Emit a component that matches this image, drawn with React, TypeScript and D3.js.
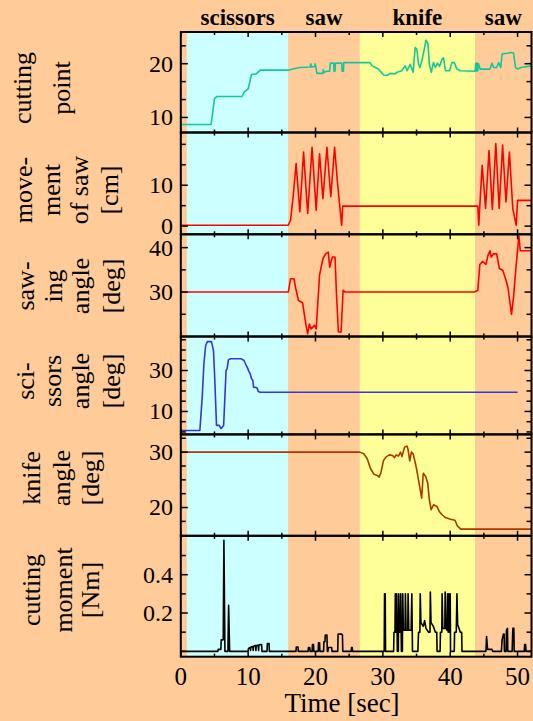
import React, { useEffect, useRef } from 'react'
import * as d3 from 'd3'

// time axis [sec]
const timeTicks = [0, 5, 10, 15, 20, 25, 30, 35, 40, 45, 50]
const timeLabels = [0, 10, 20, 30, 40, 50]
const timeMax = 52.07

// tool phases
const phaseNames = ['scissors', 'saw', 'knife', 'saw']
const phaseStart = [0.9, 15.96, 26.57, 43.69]
const phaseEnd = [15.96, 26.57, 43.69, 52.07]
const phaseColors = ['#ccffff', '#ffcc99', '#ffff99', '#ffcc99']

// [time, value]
const cuttingPoint = [
  [0, 8.7], [4.5, 8.7], [5.0, 13.5], [5.4, 13.9], [9.1, 13.9], [9.4, 14.7], [10.0, 15.3], [10.5, 18.0],
  [11.2, 18.1], [11.8, 18.8], [16.0, 18.8], [16.6, 19.0], [17.7, 19.3], [19.2, 19.4], [19.3, 20.0],
  [19.4, 19.4], [19.9, 19.5], [19.95, 20.0], [20.05, 19.4], [20.2, 18.2], [21.1, 18.2], [21.15, 18.9],
  [21.2, 18.3], [21.6, 18.6], [22.1, 18.6], [22.2, 20.1], [22.7, 20.1], [22.75, 18.6], [22.9, 18.6],
  [22.95, 20.1], [23.9, 20.1], [23.95, 18.6], [24.15, 18.6], [24.2, 20.2], [28.1, 20.2], [28.4, 19.6],
  [29.35, 19.0], [30.1, 17.9], [30.6, 17.8], [31.1, 18.2], [31.8, 18.1], [32.1, 18.4], [32.8, 18.7],
  [33.3, 19.6], [33.6, 18.7], [34.06, 19.9], [34.5, 18.4], [34.8, 23.0], [35.05, 22.7], [35.3, 19.9],
  [35.5, 19.3], [35.8, 20.6], [36.1, 22.4], [36.4, 24.4], [36.7, 23.7], [36.9, 19.9], [37.2, 18.4],
  [37.5, 20.2], [37.8, 19.3], [38.1, 20.1], [38.4, 19.5], [38.8, 20.9], [39.0, 21.1], [39.3, 18.7],
  [39.9, 18.7], [40.25, 20.2], [40.6, 20.2], [41.0, 19.0], [41.5, 18.7], [43.7, 18.6], [43.8, 20.1],
  [43.9, 18.6], [44.0, 20.1], [44.1, 18.7], [44.2, 20.0], [44.45, 19.0], [45.9, 19.0], [46.2, 20.1],
  [46.45, 19.3], [46.9, 19.3], [47.2, 20.2], [47.5, 19.3], [47.7, 21.8], [48.7, 22.0], [49.0, 22.1],
  [49.4, 22.0], [49.7, 19.3], [50.0, 19.0], [50.5, 19.3], [52.07, 19.6]
]

const sawMovement = [
  [0, 0.2], [15.96, 0.2], [16.3, 1.5], [16.7, 7.5], [17.12, 15.3], [17.68, 3.5], [18.23, 18.1],
  [18.84, 3.1], [19.49, 19.3], [20.1, 3.9], [20.6, 17.7], [21.1, 6.7], [21.7, 19.3], [22.27, 7.2],
  [22.83, 19.3], [23.3, 10], [23.89, 0.2], [24.04, 4.9], [44.1, 4.9], [44.24, 0.2], [44.5, 8],
  [44.75, 14.9], [45.25, 4.3], [45.76, 18.5], [46.26, 4.1], [46.77, 20.2], [47.27, 4.3], [47.78, 19.8],
  [48.28, 5.9], [48.79, 18.1], [49.29, 4.3], [49.8, 0.2], [50.0, 6.3], [52.07, 6.3]
]

const sawingAngle = [
  [0, 30], [15.96, 30], [16.3, 33.0], [16.8, 33.0], [17.07, 30.8], [17.47, 28.1], [18.08, 27.6],
  [18.59, 22.5], [18.84, 20.6], [19.09, 22.8], [19.34, 21.7], [19.85, 22.5], [20.1, 21.7], [20.6, 33.8],
  [21.1, 37.5], [21.5, 38.6], [21.9, 39.0], [22.1, 35.6], [22.5, 37.9], [22.9, 37.9], [23.1, 30.0],
  [23.4, 21.0], [23.8, 21.0], [24.1, 30.4], [24.4, 30], [43.6, 30], [44.1, 30.4], [44.4, 36.2],
  [44.8, 36.9], [45.3, 36.2], [45.6, 38.2], [45.9, 39.3], [46.1, 37.9], [46.4, 38.6], [46.9, 38.6],
  [47.3, 35.3], [47.8, 34.9], [48.3, 32.6], [48.6, 30.8], [49.1, 25.0], [49.4, 28.8], [49.8, 36.2],
  [50.2, 42.6], [50.4, 39.3], [52.07, 39.3]
]

const scissorsAngle = [
  [0, 0.7], [2.83, 0.7], [3.18, 17.0], [3.43, 33.3], [3.69, 42.2], [3.94, 44.1], [4.55, 44.1],
  [4.85, 39.8], [5.05, 25.4], [5.3, 3.2], [5.71, 3.2], [5.96, 1.6], [6.36, 3.2], [6.72, 30.0],
  [6.87, 30.8], [7.07, 35.2], [7.37, 35.7], [8.99, 35.7], [9.39, 34.9], [9.6, 33.3], [9.9, 31.3],
  [10.1, 29.7], [10.3, 28.4], [10.5, 26.0], [10.7, 25.1], [10.8, 21.9], [11.3, 21.6], [11.5, 19.8],
  [11.8, 19.4], [50.0, 19.4]
]

const knifeAngle = [
  [0, 30], [26.57, 30], [27.17, 29.7], [27.68, 28.8], [28.18, 27.0], [28.69, 26.0], [29.19, 25.8],
  [29.44, 25.5], [29.7, 26.2], [30.1, 28.5], [30.45, 29.1], [30.96, 29.5], [31.46, 29.4], [31.72, 29.0],
  [31.97, 29.5], [32.32, 29.3], [32.63, 30.0], [32.83, 29.2], [33.23, 30.9], [33.59, 31.1], [33.74, 30.5],
  [33.99, 28.4], [34.24, 30.0], [34.49, 29.7], [34.75, 28.4], [35.0, 27.0], [35.35, 24.6], [35.76, 21.7],
  [36.0, 26.2], [36.36, 25.6], [36.67, 24.4], [36.87, 21.7], [37.17, 19.6], [37.53, 20.5], [38.03, 20.2],
  [38.38, 19.3], [38.79, 18.7], [39.29, 18.2], [40.05, 17.9], [40.71, 17.7], [41.06, 16.7], [41.57, 16.1],
  [52.07, 16.1]
]

const cuttingMoment = [
  [0, 0], [5.5, 0], [5.55, 0.01], [5.95, 0.01], [6.0, 0.06], [6.3, 0.06], [6.4, 0.58], [6.55, 0],
  [7.0, 0], [7.1, 0.24], [7.25, 0], [10.0, 0], [10.05, 0.015], [10.3, 0.02], [10.35, 0.005],
  [10.4, 0.022], [10.7, 0.025], [10.75, 0.005], [10.8, 0.027], [11.1, 0.03], [11.15, 0.005], [11.2, 0.03],
  [11.5, 0.032], [11.55, 0.005], [11.6, 0.034], [12.0, 0.035], [12.05, 0], [12.8, 0], [12.85, 0.04],
  [13.1, 0.04], [13.15, 0],
  [17.1, 0], [17.15, 0.023], [17.4, 0.023], [17.45, 0], [18.9, 0], [18.95, 0.02], [19.15, 0.02],
  [19.2, 0], [19.5, 0], [19.55, 0.035], [19.7, 0.035], [19.75, 0], [20.4, 0], [20.45, 0.045],
  [20.6, 0.045], [20.65, 0], [21.2, 0], [21.25, 0.05], [21.4, 0.05], [21.45, 0.085], [21.7, 0.085],
  [21.75, 0], [21.85, 0], [21.9, 0.02], [22.4, 0.02], [22.45, 0], [23.3, 0], [23.35, 0.09], [23.9, 0.09],
  [24.0, 0.085], [24.05, 0], [25.3, 0], [25.35, 0.02], [25.45, 0.02], [25.5, 0],
  [30.2, 0], [30.25, 0.3], [30.35, 0.3], [30.4, 0], [31.6, 0], [31.65, 0.1], [31.8, 0.1], [31.85, 0.3],
  [31.95, 0.1], [32.05, 0.3], [32.15, 0], [32.3, 0], [32.35, 0.3], [32.45, 0.1], [32.6, 0.1], [32.65, 0.3],
  [32.75, 0], [32.9, 0], [32.95, 0.3], [33.05, 0.11], [33.3, 0.11], [33.35, 0.3], [33.45, 0.11],
  [33.7, 0.11], [33.75, 0.3], [33.85, 0.11], [34.2, 0.11], [34.3, 0.3], [34.4, 0], [35.2, 0], [35.3, 0.1],
  [35.5, 0.1], [35.55, 0.3], [35.65, 0.15], [36.0, 0.13], [36.2, 0.16], [36.4, 0.12], [36.8, 0.1],
  [37.0, 0.1], [37.05, 0.31], [37.15, 0.15], [37.5, 0.13], [37.8, 0.1], [38.0, 0.1], [38.05, 0],
  [38.5, 0], [38.55, 0.1], [38.75, 0.1], [38.8, 0.3], [38.9, 0.12], [39.2, 0.12], [39.25, 0.31],
  [39.35, 0.12], [39.55, 0.11], [39.6, 0.3], [39.7, 0.1], [39.8, 0.3], [39.9, 0.1], [40.0, 0.3],
  [40.05, 0], [40.6, 0], [40.65, 0.1], [40.9, 0.1], [41.0, 0.3], [41.1, 0.14], [41.3, 0.12], [41.5, 0.1],
  [41.7, 0.1], [41.75, 0],
  [45.3, 0], [45.4, 0.077], [45.55, 0.01], [46.2, 0.01], [46.3, 0], [47.6, 0], [47.7, 0.06],
  [47.9, 0.09], [48.0, 0.09], [48.05, 0], [48.3, 0], [48.35, 0.11], [48.5, 0.12], [48.55, 0],
  [49.2, 0], [49.3, 0.12], [49.45, 0.12], [49.5, 0], [51.0, 0], [51.05, 0.035], [51.2, 0.035],
  [51.25, 0], [52.07, 0]
]

const panels = [
  { lines: ['cutting', 'point'], data: cuttingPoint, color: '#14c79b', domain: [7.2, 25.9],
    ticks: [10, 13.33, 16.67, 20, 23.33], labels: [10, 20], top: 32, bottom: 132.5, labelX: [31, 69.5], labelY: 88 },
  { lines: ['move-', 'ment', 'of saw', '[cm]'], data: sawMovement, color: '#ff0000', domain: [-2.0, 22.9],
    ticks: [0, 5, 10, 15, 20], labels: [0, 10], top: 132.5, bottom: 234.3, labelX: [32, 60, 88, 118], labelY: 190 },
  { lines: ['saw-', 'ing', 'angle', '[deg]'], data: sawingAngle, color: '#ff0000', domain: [20.0, 43.0],
    ticks: [25, 30, 35, 40], labels: [30, 40], top: 234.3, bottom: 336.5, labelX: [34, 62, 89, 120], labelY: 286 },
  { lines: ['sci-', 'ssors', 'angle', '[deg]'], data: scissorsAngle, color: '#3737d2', domain: [-1.2, 46.6],
    ticks: [0, 5, 10, 15, 20, 25, 30, 35, 40, 45], labels: [10, 30], top: 336.5, bottom: 434.4, labelX: [34, 61, 89, 120], labelY: 381 },
  { lines: ['knife', 'angle', '[deg]'], data: knifeAngle, color: '#a83a00', domain: [14.9, 33.2],
    ticks: [17.5, 20, 22.5, 25, 27.5, 30, 32.5], labels: [20, 30], top: 434.4, bottom: 535.8, labelX: [40, 70, 99], labelY: 478 },
  { lines: ['cutting', 'moment', '[Nm]'], data: cuttingMoment, color: '#000000', domain: [-0.028, 0.603],
    ticks: [0, 0.1, 0.2, 0.3, 0.4, 0.5], labels: [0.2, 0.4], top: 535.8, bottom: 656.7, labelX: [39.5, 71.5, 99], labelY: 590 }
]

const serif = '"Liberation Serif", "Times New Roman", Times, serif'

function Chart() {
  const ref = useRef(null)

  useEffect(() => {
    const svg = d3.select(ref.current)
    svg.selectAll('*').remove()

    const x = d3.scaleLinear().domain([0, timeMax]).range([180.8, 531.5])
    const plotTop = panels[0].top
    const plotBottom = panels[panels.length - 1].bottom

    svg.append('rect').attr('width', 533).attr('height', 721).attr('fill', '#ffcc99')

    // phase backgrounds
    svg
      .selectAll('.phase')
      .data(phaseNames)
      .enter()
      .append('rect')
      .attr('x', (d, i) => x(phaseStart[i]))
      .attr('width', (d, i) => x(phaseEnd[i]) - x(phaseStart[i]))
      .attr('y', plotTop)
      .attr('height', plotBottom - plotTop)
      .attr('fill', (d, i) => phaseColors[i])

    svg
      .selectAll('.phase-name')
      .data(phaseNames)
      .enter()
      .append('text')
      .attr('x', (d, i) => (x(phaseStart[i]) + x(phaseEnd[i])) / 2)
      .attr('y', 25)
      .attr('text-anchor', 'middle')
      .attr('font-family', serif)
      .attr('font-weight', 'bold')
      .attr('font-size', 23)
      .text(d => d)

    panels.forEach((p, pi) => {
      const y = d3.scaleLinear().domain(p.domain).range([p.bottom, p.top])
      const g = svg.append('g')

      // data line
      const line = d3
        .line()
        .x(d => x(d[0]))
        .y(d => y(d[1]))
      g.append('path')
        .attr('d', line(p.data))
        .attr('fill', 'none')
        .attr('stroke', p.color)
        .attr('stroke-width', 1.6)
        .attr('stroke-linejoin', 'round')

      // x ticks, inward on top and bottom
      timeTicks.forEach(t => {
        const len = t % 10 === 0 ? 5 : 3
        g.append('line').attr('x1', x(t)).attr('x2', x(t)).attr('y1', p.top).attr('y2', p.top + len)
          .attr('stroke', 'black').attr('stroke-width', 1.5)
        g.append('line').attr('x1', x(t)).attr('x2', x(t)).attr('y1', p.bottom).attr('y2', p.bottom - len)
          .attr('stroke', 'black').attr('stroke-width', 1.5)
      })

      // y ticks, inward on left and right
      p.ticks.forEach(v => {
        const len = p.labels.indexOf(v) >= 0 ? 7 : 5
        g.append('line').attr('x1', x(0)).attr('x2', x(0) + len).attr('y1', y(v)).attr('y2', y(v))
          .attr('stroke', 'black').attr('stroke-width', 1.5)
        g.append('line').attr('x1', x(timeMax)).attr('x2', x(timeMax) - len).attr('y1', y(v)).attr('y2', y(v))
          .attr('stroke', 'black').attr('stroke-width', 1.5)
      })

      p.labels.forEach(v => {
        g.append('text')
          .attr('x', 173)
          .attr('y', y(v))
          .attr('dy', '0.33em')
          .attr('text-anchor', 'end')
          .attr('font-family', serif)
          .attr('font-size', 24)
          .text(String(v))
      })

      // box
      g.append('rect')
        .attr('x', x(0))
        .attr('y', p.top)
        .attr('width', x(timeMax) - x(0))
        .attr('height', p.bottom - p.top)
        .attr('fill', 'none')
        .attr('stroke', 'black')
        .attr('stroke-width', 2)

      // rotated axis title
      p.lines.forEach((s, i) => {
        g.append('text')
          .attr('transform', 'translate(' + p.labelX[i] + ',' + p.labelY + ') rotate(-90)')
          .attr('text-anchor', 'middle')
          .attr('font-family', serif)
          .attr('font-size', 26)
          .text(s)
      })

      if (pi === panels.length - 1) {
        timeLabels.forEach(t => {
          g.append('text')
            .attr('x', x(t))
            .attr('y', 685)
            .attr('text-anchor', 'middle')
            .attr('font-family', serif)
            .attr('font-size', 25)
            .text(String(t))
        })
      }
    })

    svg.append('text')
      .attr('x', 342)
      .attr('y', 711.5)
      .attr('text-anchor', 'middle')
      .attr('font-family', serif)
      .attr('font-size', 27)
      .text('Time [sec]')
  }, [])

  return <svg ref={ref} width={533} height={721} style={{ display: 'block' }} />
}

export default function App() {
  return (
    <div style={{ position: 'absolute', left: 0, top: 0 }}>
      <Chart />
    </div>
  )
}
